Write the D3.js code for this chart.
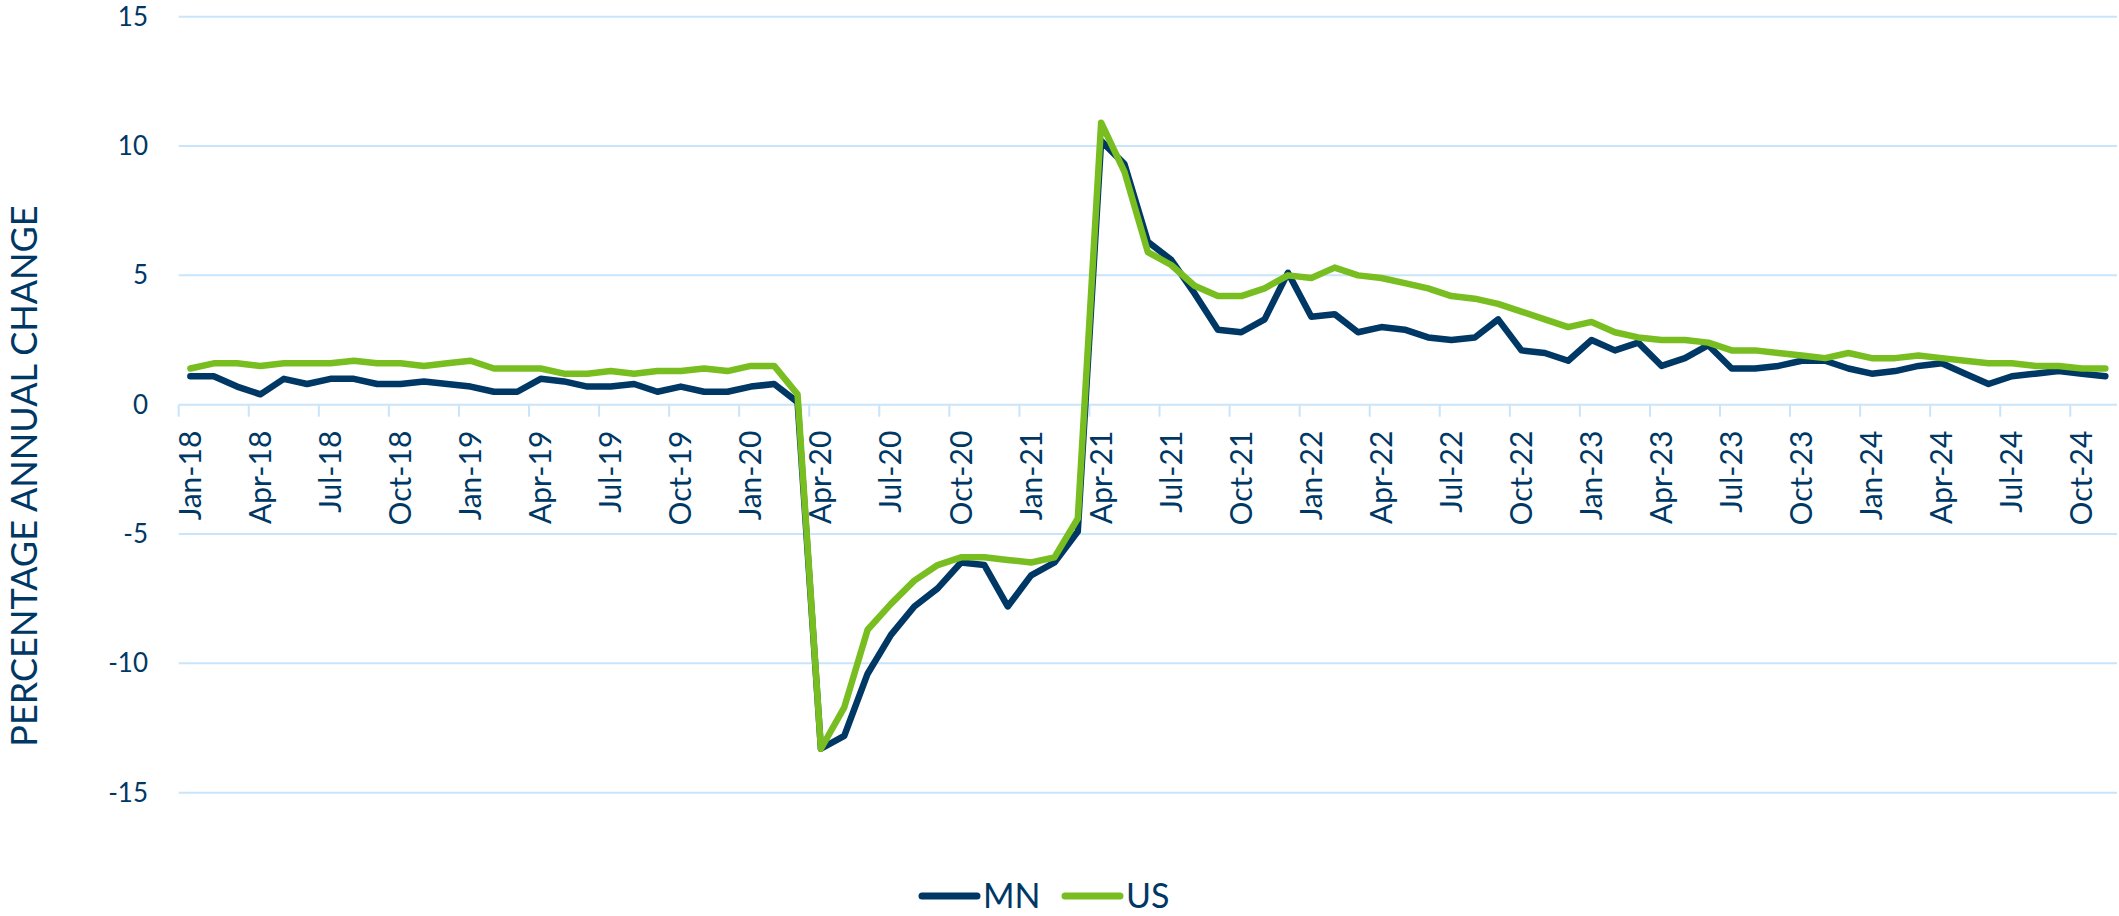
<!DOCTYPE html>
<meta charset="utf-8">
<style>

body {
  margin: 0;
  background: #fff;
}

text {
  font-family: Lato, "Open Sans", sans-serif;
  fill: #003865;
}

.grid line {
  stroke: #c9e5fb;
  stroke-width: 2px;
}

.line {
  fill: none;
  stroke-width: 6.5px;
  stroke-linejoin: round;
  stroke-linecap: round;
}

</style>
<svg width="2119" height="916"></svg>
<script src="https://d3js.org/d3.v7.min.js"></script>
<script>

// months Jan-18 .. Nov-24
var fmt = d3.timeFormat("%b-%y");
var months = d3.timeMonth.range(new Date(2018, 0, 1), new Date(2024, 11, 1)).map(fmt);

var mn = [1.1, 1.1, 0.7, 0.4, 1.0, 0.8, 1.0, 1.0, 0.8, 0.8, 0.9, 0.8,
          0.7, 0.5, 0.5, 1.0, 0.9, 0.7, 0.7, 0.8, 0.5, 0.7, 0.5, 0.5,
          0.7, 0.8, 0.1, -13.3, -12.8, -10.4, -8.9, -7.8, -7.1, -6.1, -6.2, -7.8,
          -6.6, -6.1, -4.9, 10.2, 9.3, 6.3, 5.6, 4.3, 2.9, 2.8, 3.3, 5.1,
          3.4, 3.5, 2.8, 3.0, 2.9, 2.6, 2.5, 2.6, 3.3, 2.1, 2.0, 1.7,
          2.5, 2.1, 2.4, 1.5, 1.8, 2.3, 1.4, 1.4, 1.5, 1.7, 1.7, 1.4,
          1.2, 1.3, 1.5, 1.6, 1.2, 0.8, 1.1, 1.2, 1.3, 1.2, 1.1];

var us = [1.4, 1.6, 1.6, 1.5, 1.6, 1.6, 1.6, 1.7, 1.6, 1.6, 1.5, 1.6,
          1.7, 1.4, 1.4, 1.4, 1.2, 1.2, 1.3, 1.2, 1.3, 1.3, 1.4, 1.3,
          1.5, 1.5, 0.4, -13.3, -11.7, -8.7, -7.7, -6.8, -6.2, -5.9, -5.9, -6.0,
          -6.1, -5.9, -4.4, 10.9, 9.0, 5.9, 5.4, 4.6, 4.2, 4.2, 4.5, 5.0,
          4.9, 5.3, 5.0, 4.9, 4.7, 4.5, 4.2, 4.1, 3.9, 3.6, 3.3, 3.0,
          3.2, 2.8, 2.6, 2.5, 2.5, 2.4, 2.1, 2.1, 2.0, 1.9, 1.8, 2.0,
          1.8, 1.8, 1.9, 1.8, 1.7, 1.6, 1.6, 1.5, 1.5, 1.4, 1.4];

var yTicks = [-15, -10, -5, 0, 5, 10, 15];

var series = [
  {name: "MN", values: mn, color: "#003865"},
  {name: "US", values: us, color: "#78be20"}
];

var svg = d3.select("svg");

var x = d3.scaleBand()
    .domain(months)
    .range([178.7, 2117]);

var y = d3.scaleLinear()
    .domain([-15, 15])
    .range([792.7, 16.7]);

// horizontal gridlines
svg.append("g")
    .attr("class", "grid")
  .selectAll("line")
  .data(yTicks)
  .enter().append("line")
    .attr("x1", x.range()[0])
    .attr("x2", x.range()[1])
    .attr("y1", function(d) { return y(d); })
    .attr("y2", function(d) { return y(d); });

// y tick labels
svg.append("g")
  .selectAll("text")
  .data(yTicks)
  .enter().append("text")
    .attr("x", 148)
    .attr("y", function(d) { return y(d); })
    .attr("dy", "0.35em")
    .attr("text-anchor", "end")
    .style("font-size", "26px")
    .text(function(d) { return d; });

// x axis at zero, ticks between every 3rd category
var xAxis = svg.append("g")
    .attr("class", "grid");

var tickPos = months.filter(function(d, i) { return i % 3 === 0; })
    .map(function(d) { return x(d); });

xAxis.selectAll("line")
  .data(tickPos)
  .enter().append("line")
    .attr("x1", function(d) { return d; })
    .attr("x2", function(d) { return d; })
    .attr("y1", y(0))
    .attr("y2", y(0) + 12);

xAxis.selectAll("text")
  .data(months.filter(function(d, i) { return i % 3 === 0; }))
  .enter().append("text")
    .attr("transform", function(d) {
      return "translate(" + (x(d) + x.bandwidth() / 2) + "," + (y(0) + 26) + ") rotate(-90)";
    })
    .attr("dy", "0.35em")
    .attr("text-anchor", "end")
    .style("font-size", "30px")
    .text(function(d) { return d; });

// lines
var line = d3.line()
    .x(function(d, i) { return x(months[i]) + x.bandwidth() / 2; })
    .y(function(d) { return y(d); });

svg.selectAll(".line")
  .data(series)
  .enter().append("path")
    .attr("class", "line")
    .attr("stroke", function(d) { return d.color; })
    .attr("d", function(d) { return line(d.values); });

// axis title
svg.append("text")
    .attr("transform", "translate(24,476) rotate(-90)")
    .attr("dy", "0.35em")
    .attr("text-anchor", "middle")
    .style("font-size", "36px")
    .text("PERCENTAGE ANNUAL CHANGE");

// legend
var legend = svg.append("g");
var lx = [922, 1065];
series.forEach(function(s, i) {
  legend.append("line")
      .attr("x1", lx[i]).attr("x2", lx[i] + 55)
      .attr("y1", 896).attr("y2", 896)
      .attr("stroke", s.color)
      .attr("stroke-width", 7)
      .attr("stroke-linecap", "round");
  legend.append("text")
      .attr("x", lx[i] + 61)
      .attr("y", 896)
      .attr("dy", "0.35em")
      .style("font-size", "34px")
      .text(s.name);
});

</script>
